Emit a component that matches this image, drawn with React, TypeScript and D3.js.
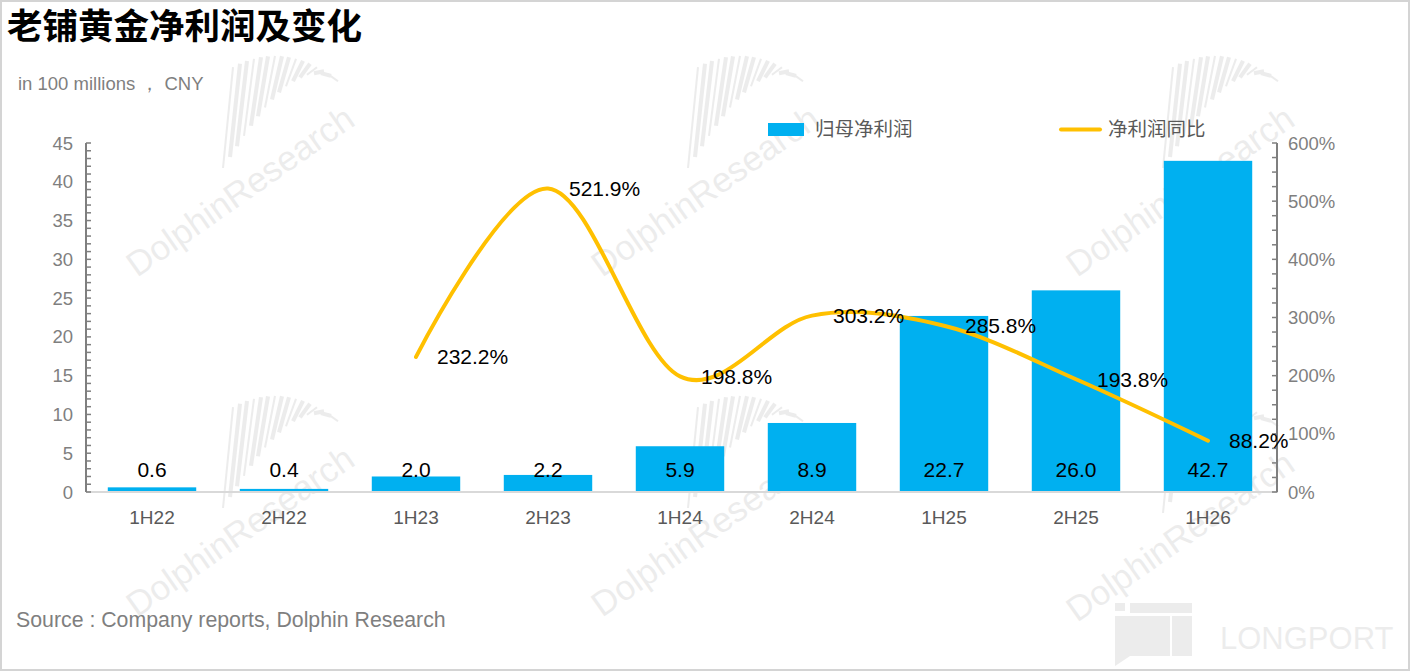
import React from 'react';
import * as d3 from 'd3';

const categories = ['1H22', '2H22', '1H23', '2H23', '1H24', '2H24', '1H25', '2H25', '1H26'];
const profit = [0.6, 0.4, 2.0, 2.2, 5.9, 8.9, 22.7, 26.0, 42.7];
const yoyCats = ['1H23', '2H23', '1H24', '2H24', '1H25', '2H25', '1H26'];
const yoy = [2.322, 5.219, 1.988, 3.032, 2.858, 1.938, 0.882];
const leftTicks = [0, 5, 10, 15, 20, 25, 30, 35, 40, 45];
const rightTicks = [0, 1, 2, 3, 4, 5, 6];

const W = 1411;
const H = 672;
const LATIN = '"Liberation Sans", Arial, "Noto Sans", sans-serif';
const CJK = '"Noto Sans CJK SC", "Noto Sans", sans-serif';
const BLUE = '#00b0f0';
const GOLD = '#ffc000';
const GRAY = '#7f7f7f';

function Watermark({ x, y }: { x: number; y: number }) {
  const stripes = d3.range(16);
  return (
    <g opacity={0.07}>
      <g transform={`translate(${x - 30},${y - 150})`}>
        {stripes.map((i) => {
          const t = i / 15;
          const top = 6 + 70 * Math.pow(t - 0.4, 2);
          const bottom = 118 - 95 * Math.sin(t * Math.PI * 0.55);
          return (
            <line
              key={i}
              x1={i * 7 - 2}
              x2={i * 7 + 8}
              y1={bottom}
              y2={top}
              stroke="#000"
              strokeWidth={i % 3 === 0 ? 2 : 4}
            />
          );
        })}
      </g>
      <text
        transform={`translate(${x - 118},${y + 78}) rotate(-35)`}
        fontFamily={LATIN}
        fontSize={35}
        fill="#000"
      >
        DolphinResearch
      </text>
    </g>
  );
}

export default function App() {
  const x0 = 86;
  const x1 = 1274;
  const yTop = 143;
  const yBase = 492;

  const xBand = d3.scaleBand<string>().domain(categories).range([x0, x1]).paddingInner(0.33).paddingOuter(0.165);
  const xc = (c: string) => (xBand(c) as number) + xBand.bandwidth() / 2;
  const yL = d3.scaleLinear().domain([0, 45]).range([yBase, yTop]);
  const yR = d3.scaleLinear().domain([0, 6]).range([yBase, yTop]);

  const line = d3
    .line<number>()
    .x((_, i) => xc(yoyCats[i]))
    .y((d) => yR(d))
    .curve(d3.curveCardinal.tension(0));

  const leftMinor = d3.range(0, 46, 1);
  const rightMinor = d3.range(0, 6.01, 0.25);

  return (
    <svg
      width={W}
      height={H}
      style={{ position: 'absolute', left: 0, top: 0, background: '#fff' }}
    >
      <rect x={1} y={1} width={W - 3} height={H - 3} fill="#fff" stroke="#d4d4d4" strokeWidth={2} />

      {/* watermarks */}
      <Watermark x={255} y={200} />
      <Watermark x={720} y={200} />
      <Watermark x={1195} y={200} />
      <Watermark x={255} y={540} />
      <Watermark x={720} y={540} />
      <Watermark x={1195} y={545} />

      {/* LONGPORT logo */}
      <g opacity={0.07}>
        <rect x={1115} y={603} width={10} height={8} fill="#000" />
        <rect x={1130} y={603} width={62} height={10} fill="#000" />
        <path d="M1115,616 h55 v40 h-40 l-15,10 z" fill="#000" />
        <rect x={1172} y={616} width={20} height={40} fill="#000" />
        <text x={1220} y={649} fontFamily={LATIN} fontSize={31} fill="#000">
          LONGPORT
        </text>
      </g>

      {/* title */}
      <text x={7} y={39} fontFamily={CJK} fontWeight={700} fontSize={35.5} fill="#000">
        老铺黄金净利润及变化
      </text>
      <text x={18} y={90} fontFamily={LATIN} fontSize={18.5} fill={GRAY}>
        in 100 millions ， CNY
      </text>

      {/* legend */}
      <rect x={768} y={123} width={36} height={13} fill={BLUE} />
      <text x={815} y={136} fontFamily={CJK} fontSize={19.5} fill="#595959">
        归母净利润
      </text>
      <line x1={1061} x2={1100} y1={129.5} y2={129.5} stroke={GOLD} strokeWidth={4} strokeLinecap="round" />
      <text x={1108} y={136} fontFamily={CJK} fontSize={19.5} fill="#595959">
        净利润同比
      </text>

      {/* bars */}
      {categories.map((c, i) => (
        <rect
          key={c}
          x={xBand(c)}
          y={yL(profit[i])}
          width={xBand.bandwidth()}
          height={yBase - yL(profit[i])}
          fill={BLUE}
        />
      ))}

      {/* x axis */}
      <line x1={x0} x2={1278} y1={yBase} y2={yBase} stroke="#d9d9d9" strokeWidth={2} />
      {categories.map((c) => (
        <text key={c} x={xc(c)} y={524} textAnchor="middle" fontFamily={LATIN} fontSize={19} fill="#595959">
          {c}
        </text>
      ))}

      {/* left axis */}
      <line x1={x0} x2={x0} y1={yTop} y2={yBase} stroke={GRAY} strokeWidth={2} />
      {leftMinor.map((v) => (
        <line key={v} x1={x0} x2={x0 + 5} y1={yL(v)} y2={yL(v)} stroke={GRAY} strokeWidth={1.5} />
      ))}
      {leftTicks.map((v) => (
        <text key={v} x={73} y={yL(v) + 6.5} textAnchor="end" fontFamily={LATIN} fontSize={18.5} fill={GRAY}>
          {v}
        </text>
      ))}

      {/* right axis */}
      <line x1={1277} x2={1277} y1={yTop} y2={yBase} stroke={GRAY} strokeWidth={2} />
      {rightMinor.map((v) => (
        <line key={v} x1={1272} x2={1277} y1={yR(v)} y2={yR(v)} stroke={GRAY} strokeWidth={1.5} />
      ))}
      {rightTicks.map((v) => (
        <text key={v} x={1288} y={yR(v) + 6.5} fontFamily={LATIN} fontSize={18.5} fill={GRAY}>
          {d3.format('.0%')(v)}
        </text>
      ))}

      {/* yoy line */}
      <path d={line(yoy) || ''} fill="none" stroke={GOLD} strokeWidth={4} strokeLinecap="round" />

      {/* bar labels */}
      {categories.map((c, i) => (
        <text key={c} x={xc(c)} y={yBase - 15} textAnchor="middle" fontFamily={LATIN} fontSize={21} fill="#000">
          {profit[i].toFixed(1)}
        </text>
      ))}

      {/* line labels */}
      {yoyCats.map((c, i) => (
        <text key={c} x={xc(c) + 21} y={yR(yoy[i]) + 7.5} fontFamily={LATIN} fontSize={21} fill="#000">
          {d3.format('.1%')(yoy[i])}
        </text>
      ))}

      {/* source */}
      <text x={16} y={627} fontFamily={LATIN} fontSize={21.3} fill={GRAY}>
        Source : Company reports, Dolphin Research
      </text>
    </svg>
  );
}
